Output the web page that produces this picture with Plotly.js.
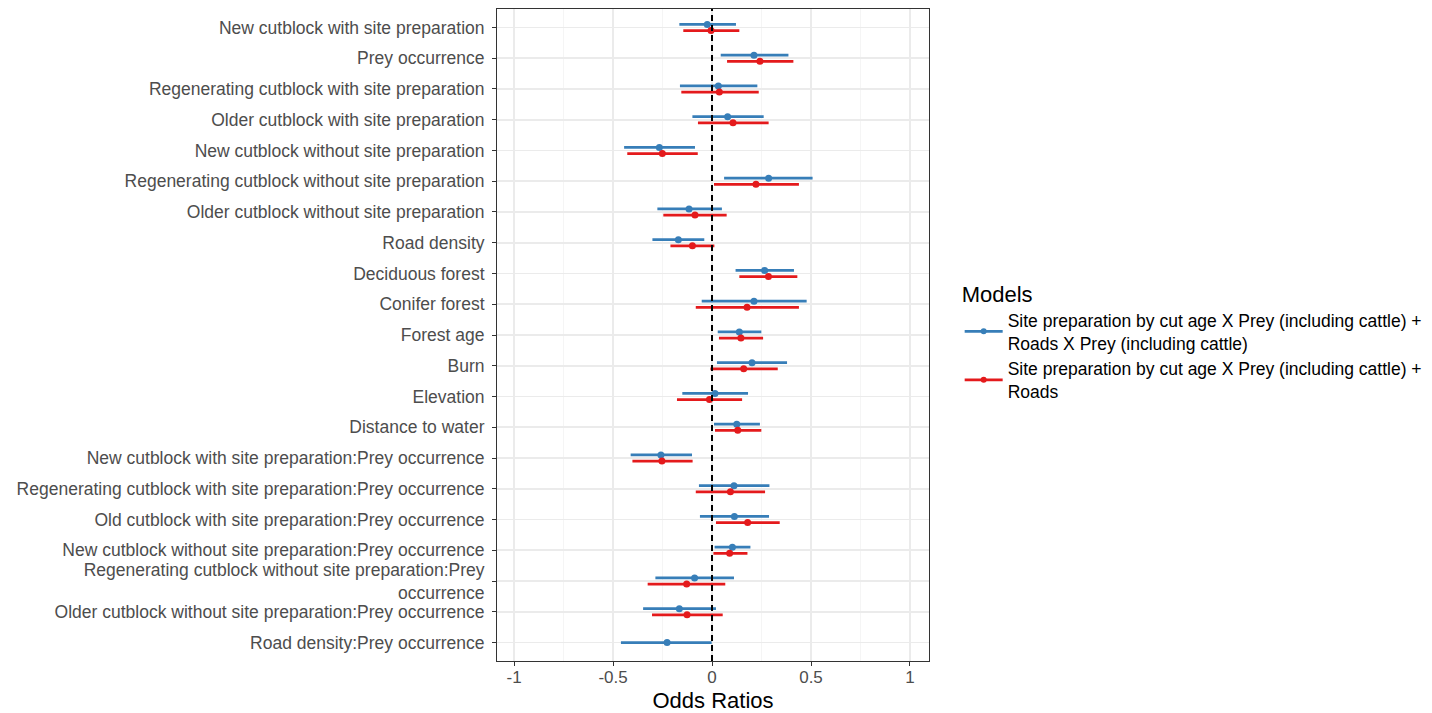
<!DOCTYPE html>
<html>
<head>
<meta charset="utf-8">
<script src="https://cdn.plot.ly/plotly-3.0.1.min.js"></script>
<style>html,body{margin:0;padding:0;background:#fff}#chart{width:1432px;height:713px}</style>
</head>
<body>
<div id="chart"></div>
<script>
const labels = [
  "New cutblock with site preparation",
  "Prey occurrence",
  "Regenerating cutblock with site preparation",
  "Older cutblock with site preparation",
  "New cutblock without site preparation",
  "Regenerating cutblock without site preparation",
  "Older cutblock without site preparation",
  "Road density",
  "Deciduous forest",
  "Conifer forest",
  "Forest age",
  "Burn",
  "Elevation",
  "Distance to water",
  "New cutblock with site preparation:Prey occurrence",
  "Regenerating cutblock with site preparation:Prey occurrence",
  "Old cutblock with site preparation:Prey occurrence",
  "New cutblock without site preparation:Prey occurrence",
  "Regenerating cutblock without site preparation:Prey<br>occurrence",
  "Older cutblock without site preparation:Prey occurrence",
  "Road density:Prey occurrence"
];
const modelNames = [
  "Site preparation by cut age X Prey (including cattle) +<br>Roads X Prey (including cattle)",
  "Site preparation by cut age X Prey (including cattle) +<br>Roads"
];
const blueEst = [-0.024, 0.212, 0.032, 0.079, -0.266, 0.286, -0.116, -0.170, 0.266, 0.212, 0.138, 0.202, 0.015, 0.125, -0.258, 0.111, 0.113, 0.103, -0.088, -0.165, -0.227];
const blueLo  = [-0.165, 0.044, -0.162, -0.099, -0.444, 0.061, -0.276, -0.301, 0.119, -0.052, 0.029, 0.025, -0.150, 0.010, -0.411, -0.066, -0.061, 0.013, -0.286, -0.348, -0.460];
const blueHi  = [0.121, 0.386, 0.229, 0.261, -0.086, 0.508, 0.050, -0.039, 0.414, 0.478, 0.249, 0.379, 0.182, 0.242, -0.101, 0.290, 0.288, 0.194, 0.111, 0.020, -0.002];
const redEst  = [-0.005, 0.242, 0.037, 0.106, -0.251, 0.222, -0.086, -0.099, 0.285, 0.177, 0.146, 0.160, -0.013, 0.130, -0.253, 0.093, 0.180, 0.089, -0.128, -0.126, null];
const redLo   = [-0.145, 0.076, -0.155, -0.071, -0.428, 0.010, -0.246, -0.210, 0.138, -0.082, 0.035, -0.008, -0.177, 0.015, -0.402, -0.082, 0.020, 0.007, -0.325, -0.303, null];
const redHi   = [0.138, 0.411, 0.236, 0.286, -0.072, 0.439, 0.074, 0.012, 0.431, 0.439, 0.258, 0.332, 0.152, 0.249, -0.098, 0.268, 0.342, 0.179, 0.067, 0.054, null];
const xTicks = [-1, -0.5, 0, 0.5, 1];
const xTickText = ["-1", "-0.5", "0", "0.5", "1"];

const BLUE = "#377EB8", RED = "#E41A1C";
const FONT = "Liberation Sans, Arial, sans-serif";
const idx = labels.map((_, i) => i);
const dodge = 0.1;
const yBlue = idx.map(i => redEst[i] === null ? i : i - dodge);
const yRed = idx.map(i => i + dodge);

function seriesTrace(est, lo, hi, y, color) {
  return {
    type: "scatter", mode: "markers", x: est, y: y, showlegend: false,
    marker: {color: color, size: 7},
    error_x: {type: "data", symmetric: false,
      array: est.map((v, i) => v === null ? null : hi[i] - v),
      arrayminus: est.map((v, i) => v === null ? null : v - lo[i]),
      color: color, thickness: 2.8, width: 0},
    hoverinfo: "x+y"
  };
}
function legendTrace(name, color) {
  return {type: "scatter", mode: "lines+markers", x: [null], y: [null], name: name,
    line: {color: color, width: 2.8}, marker: {color: color, size: 6}, showlegend: true};
}

const data = [
  seriesTrace(blueEst, blueLo, blueHi, yBlue, BLUE),
  seriesTrace(redEst, redLo, redHi, yRed, RED),
  legendTrace(modelNames[0], BLUE),
  legendTrace(modelNames[1], RED)
];

const layout = {
  width: 1432, height: 713,
  margin: {l: 497, r: 503, t: 9, b: 52, autoexpand: false},
  paper_bgcolor: "#fff", plot_bgcolor: "#fff",
  font: {family: FONT, size: 17.5, color: "#4D4D4D"},
  xaxis: {
    range: [-1.086, 1.096], tickvals: xTicks, ticktext: xTickText,
    showgrid: true, gridcolor: "#EBEBEB", gridwidth: 1.6,
    minor: {tickvals: [-0.75, -0.25, 0.25, 0.75], showgrid: true, gridcolor: "#F4F4F4", gridwidth: 0.9, ticks: ""},
    zeroline: false, showline: true, mirror: true, linecolor: "#333333", linewidth: 1,
    ticks: "outside", ticklen: 4, tickcolor: "#333333", tickwidth: 1,
    ticklabelstandoff: -3,
    tickfont: {family: FONT, size: 17, color: "#4D4D4D"},
    title: {text: "Odds Ratios", font: {family: FONT, size: 22, color: "#000"}, standoff: 6},
    automargin: false
  },
  yaxis: {
    range: [20.6, -0.6], tickvals: idx, ticktext: labels,
    showgrid: true, gridcolor: "#EBEBEB", gridwidth: 1.6,
    zeroline: false, showline: true, mirror: true, linecolor: "#333333", linewidth: 1,
    ticks: "outside", ticklen: 4, tickcolor: "#333333", tickwidth: 1,
    ticklabelstandoff: 4,
    tickfont: {family: FONT, size: 17.5, color: "#4D4D4D"},
    automargin: false
  },
  shapes: [{type: "line", xref: "x", yref: "paper", x0: 0, x1: 0, y0: 0, y1: 1,
    line: {color: "#000", width: 2, dash: "6px,4px"}, layer: "above"}],
  legend: {
    x: 1.071, xanchor: "left", y: 0.49, yanchor: "middle",
    title: {text: "Models", font: {family: FONT, size: 22, color: "#000"}},
    font: {family: FONT, size: 17.5, color: "#000"},
    bgcolor: "rgba(0,0,0,0)", traceorder: "normal", tracegroupgap: 0, itemwidth: 38
  },
  showlegend: true
};

Plotly.newPlot("chart", data, layout, {displayModeBar: false, staticPlot: true});
</script>
</body>
</html>
